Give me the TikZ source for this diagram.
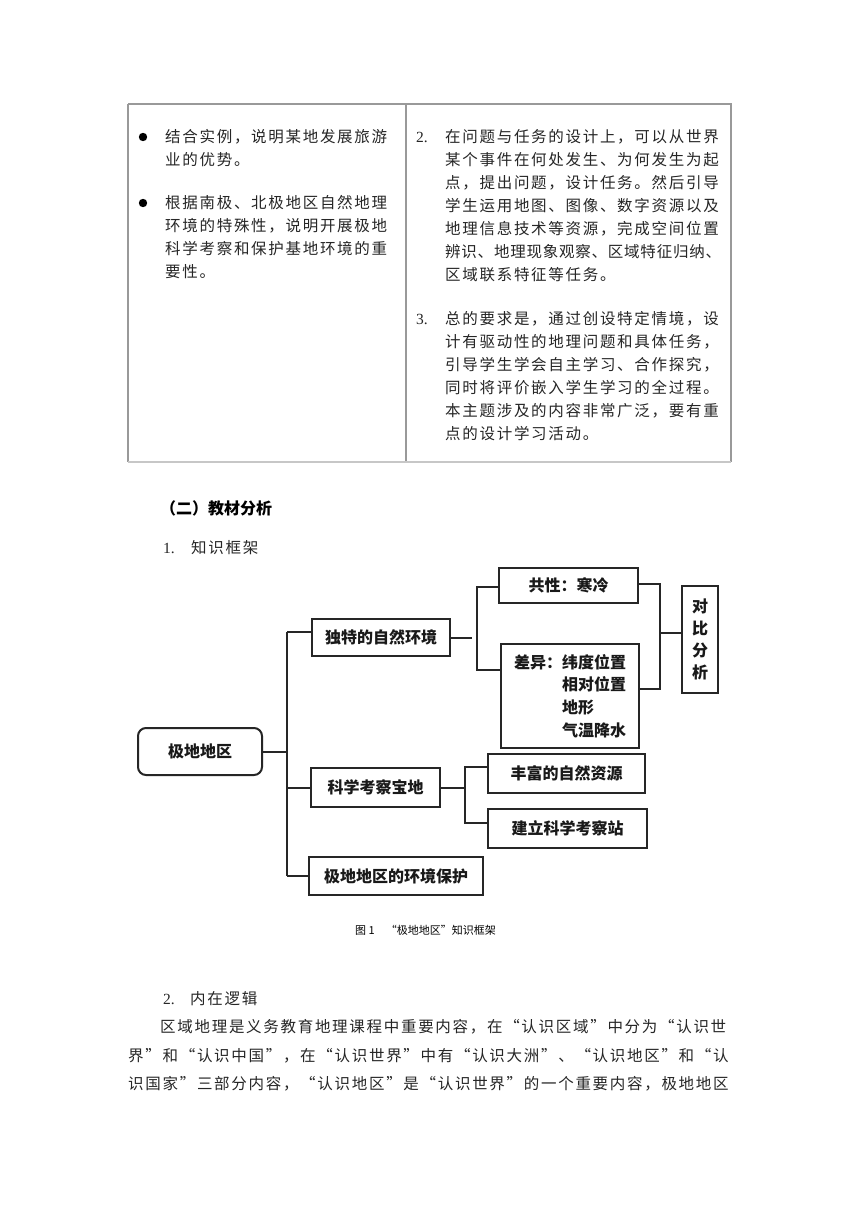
\documentclass[tikz,border=0pt]{standalone}
\usepackage{fontspec}
\setmainfont{Noto Sans CJK SC}
\newfontfamily\bodyf[LetterSpace=11]{Noto Sans CJK SC}
\newfontfamily\tightf[LetterSpace=5]{Noto Sans CJK SC}
\newfontfamily\numf{Liberation Serif}
\begin{document}
\begin{tikzpicture}[x=1pt,y=-1pt,
  tx/.style={anchor=west,inner sep=0pt,font=\bodyf\fontsize{15.5}{15.5}\selectfont,text=black!85},
  nm/.style={anchor=west,inner sep=0pt,font=\numf\fontsize{15.5}{15.5}\selectfont,text=black!85},
  box/.style={draw=black!85,line width=2pt,inner sep=0pt,font=\bfseries\fontsize{16}{16}\selectfont,text=black!90},
  ln/.style={draw=black!85,line width=2pt},
  rule/.style={draw=black!40,line width=1.1pt}]
\useasboundingbox (0,0) rectangle (860,1216);
\fill[white] (0,0) rectangle (860,1216);
% table
\draw[rule] (128,104) -- (731,104) -- (731,462);
\draw[rule] (128,104) -- (128,462);
\draw[rule] (406,104) -- (406,462);
\draw[draw=black!22,line width=1.1pt] (128,462) -- (731,462);
\fill[black] (143,137) circle (4.2);
\fill[black] (143,203) circle (4.2);
\node[tx] (l1) at (165,137) {结合实例，说明某地发展旅游};
\node[tx] (l2) at (165,160) {业的优势。};
\node[tx] (l3) at (165,203) {根据南极、北极地区自然地理};
\node[tx] (l4) at (165,226) {环境的特殊性，说明开展极地};
\node[tx] (l5) at (165,249) {科学考察和保护基地环境的重};
\node[tx] (l6) at (165,272) {要性。};
\node[nm] (n2) at (416,137) {2.};
\node[tx] (r1) at (445,137) {在问题与任务的设计上，可以从世界};
\node[tx] (r2) at (445,160) {某个事件在何处发生、为何发生为起};
\node[tx] (r3) at (445,183) {点，提出问题，设计任务。然后引导};
\node[tx] (r4) at (445,206) {学生运用地图、图像、数字资源以及};
\node[tx] (r5) at (445,229) {地理信息技术等资源，完成空间位置};
\node[tx,font=\tightf\fontsize{15.5}{15.5}\selectfont] (r6) at (445,252) {辨识、地理现象观察、区域特征归纳、};
\node[tx] (r7) at (445,275) {区域联系特征等任务。};
\node[nm] (n3) at (416,319) {3.};
\node[tx] (s1) at (445,319) {总的要求是，通过创设特定情境，设};
\node[tx] (s2) at (445,342) {计有驱动性的地理问题和具体任务，};
\node[tx] (s3) at (445,365) {引导学生学会自主学习、合作探究，};
\node[tx] (s4) at (445,388) {同时将评价嵌入学生学习的全过程。};
\node[tx] (s5) at (445,411) {本主题涉及的内容非常广泛，要有重};
\node[tx] (s6) at (445,434) {点的设计学习活动。};
% headings
\node[anchor=west,inner sep=0pt,font=\bfseries\fontsize{16}{16}\selectfont] (h2) at (160,508) {（二）教材分析};
\node[nm] (n1) at (163,548) {1.};
\node[tx] (h3) at (191,548) {知识框架};
% diagram
\node[box,rounded corners=8pt,minimum width=124pt,minimum height=47pt] (root) at (200,751.5) {极地地区};
\node[box,minimum width=138pt,minimum height=37pt] (a1) at (381,637.5) {独特的自然环境};
\node[box,minimum width=129pt,minimum height=39pt] (a2) at (375.5,787.5) {科学考察宝地};
\node[box,minimum width=174pt,minimum height=38pt] (a3) at (396,876) {极地地区的环境保护};
\node[box,minimum width=139pt,minimum height=35pt] (b1) at (568.5,585.5) {共性：寒冷};
\node[box,minimum width=138pt,minimum height=104pt,align=left,font=\bfseries\fontsize{16}{22.7}\selectfont] (b2) at (570,696) {差异：纬度位置\\\hphantom{差异：}相对位置\\\hphantom{差异：}地形\\\hphantom{差异：}气温降水};
\node[box,minimum width=36pt,minimum height=107pt,align=center,font=\bfseries\fontsize{16}{22}\selectfont] (c) at (700,639.5) {对\\比\\分\\析};
\node[box,minimum width=157pt,minimum height=39pt] (d1) at (566.5,773.5) {丰富的自然资源};
\node[box,minimum width=159pt,minimum height=39pt] (d2) at (567.5,828.5) {建立科学考察站};
% connectors
\coordinate (tt) at (287,632);
\coordinate (tb) at (287,876);
\draw[ln] (tt) -- (tb);
\draw[ln] (root.east) -- (root.east -| tt);
\draw[ln] (tt) -- (tt -| a1.west);
\draw[ln] (a2.west -| tt) -- (a2.west);
\draw[ln] (tb) -- (a3.west);
\coordinate (st) at (472,637.5);
\draw[ln] (a1.east) -- (st);
\coordinate (bk1) at (477,587);
\coordinate (bk2) at (477,670);
\draw[ln] (b1.west |- bk1) -- (bk1) -- (bk2) -- (bk2 -| b2.west);
\coordinate (rk1) at (660,584);
\coordinate (rk2) at (660,689);
\coordinate (rkm) at (660,633);
\draw[ln] (b1.east |- rk1) -- (rk1) -- (rk2) -- (rk2 -| b2.east);
\draw[ln] (rkm) -- (rkm -| c.west);
\coordinate (sk1) at (465,767);
\coordinate (sk2) at (465,823);
\draw[ln] (a2.east) -- (a2.east -| sk1);
\draw[ln] (d1.west |- sk1) -- (sk1) -- (sk2) -- (sk2 -| d2.west);
% caption and text
\node[anchor=west,inner sep=0pt,font=\fontsize{11}{11}\selectfont] (cap) at (355,930) {图 1\hspace{1em}“极地地区”知识框架};
\node[nm] (n4) at (163,999) {2.};
\node[tx] (h4) at (190,999) {内在逻辑};
\node[tx] (p1) at (160,1027) {区域地理是义务教育地理课程中重要内容，在“认识区域”中分为“认识世};
\node[tx] (p2) at (128,1056) {界”和“认识中国”，在“认识世界”中有“认识大洲”、“认识地区”和“认};
\node[tx] (p3) at (128,1084) {识国家”三部分内容，“认识地区”是“认识世界”的一个重要内容，极地地区};
\end{tikzpicture}
\end{document}
